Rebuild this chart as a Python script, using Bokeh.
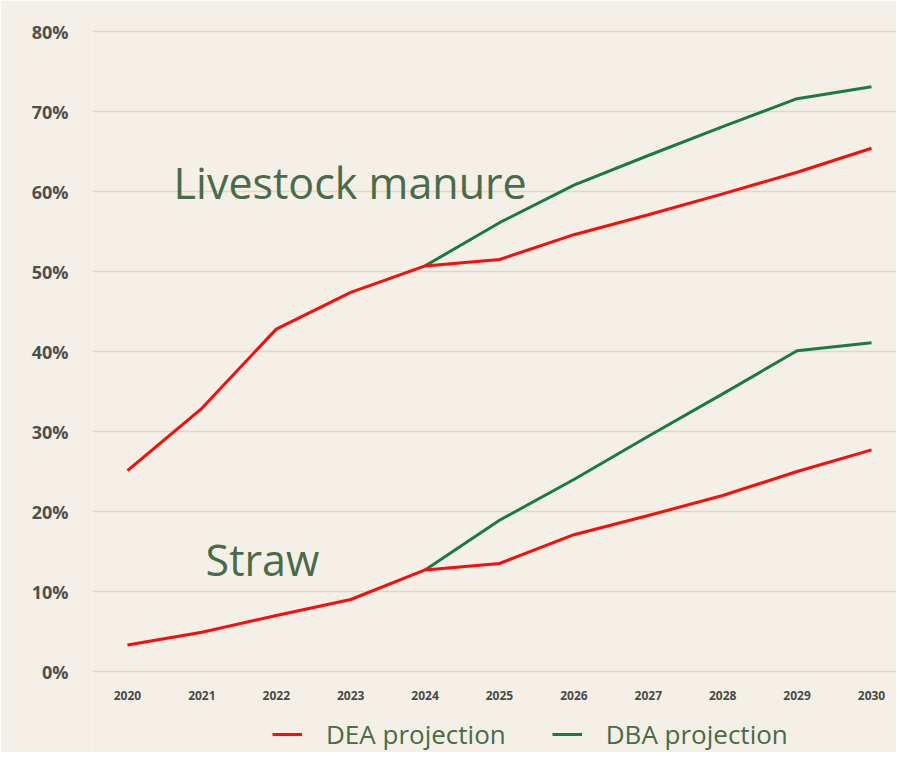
from bokeh.plotting import figure
from bokeh.models import Range1d, FixedTicker, Legend, LegendItem
from bokeh.core.properties import value
from bokeh.embed import file_html
from bokeh.resources import INLINE

years = [2020, 2021, 2022, 2023, 2024, 2025, 2026, 2027, 2028, 2029, 2030]
livestock_dea = [25.1, 32.9, 42.8, 47.4, 50.7, 51.5, 54.6, 57.1, 59.7, 62.4, 65.4]
dba_years = [2024, 2025, 2026, 2027, 2028, 2029, 2030]
livestock_dba = [50.7, 56.1, 60.8, 64.5, 68.1, 71.6, 73.1]
straw_dea = [3.3, 4.9, 7.0, 9.0, 12.7, 13.5, 17.1, 19.5, 22.0, 25.0, 27.7]
straw_dba = [12.7, 18.9, 24.0, 29.4, 34.7, 40.1, 41.1]
y_ticks = [0, 10, 20, 30, 40, 50, 60, 70, 80]
y_tick_labels = {t: f"{t}%" for t in y_ticks}
series_labels = ["DEA projection", "DBA projection"]
annotations = ["Livestock manure", "Straw"]

BG = "#f4f0e7"
RED = "#ff0a0a"
GREEN = "#1b7a43"
TXT_GREEN = "#4a6a48"

p = figure(width=896, height=752, output_backend="svg", toolbar_location=None,
           x_range=Range1d(2019.53, 2030.336), y_range=Range1d(-10.125, 81.375),
           min_border_left=92, min_border_right=0, min_border_top=20, min_border_bottom=0)
p.background_fill_color = BG
p.border_fill_color = BG
p.outline_line_color = None

p.xaxis.ticker = FixedTicker(ticks=years)
p.xaxis.fixed_location = -1.375
p.yaxis.ticker = FixedTicker(ticks=y_ticks)
p.yaxis.major_label_overrides = y_tick_labels
for ax in (p.xaxis, p.yaxis):
    ax.axis_line_color = None
    ax.major_tick_line_color = None
    ax.minor_tick_line_color = None
    ax.major_tick_out = 0
    ax.major_tick_in = 0
    ax.major_label_text_font = "Open Sans"
    ax.major_label_text_font_style = "bold"
p.yaxis.major_label_text_font_size = "18px"
p.yaxis.major_label_text_color = "#4f4f4b"
p.yaxis.major_label_standoff = 24
p.xaxis.major_label_text_font_size = "12px"
p.xaxis.major_label_text_color = "#4a4a45"
p.xaxis.major_label_standoff = 8

p.xgrid.grid_line_color = None
p.ygrid.grid_line_color = "#ddd8cc"
p.ygrid.grid_line_width = 1.5

g1 = p.line(dba_years, livestock_dba, line_color=GREEN, line_width=3)
g2 = p.line(dba_years, straw_dba, line_color=GREEN, line_width=3)
r1 = p.line(years, livestock_dea, line_color=RED, line_width=3)
r2 = p.line(years, straw_dea, line_color=RED, line_width=3)

p.text(x=[2020.62], y=[61.15], text=[annotations[0]], text_font=value("Open Sans"),
       text_font_size="43px", text_color=TXT_GREEN, text_baseline="alphabetic", text_align="left")
p.text(x=[2021.05], y=[14.0], text=[annotations[1]], text_font=value("Open Sans"),
       text_font_size="43px", text_color=TXT_GREEN, text_baseline="alphabetic", text_align="left")

legend = Legend(items=[LegendItem(label=series_labels[0], renderers=[r1]),
                       LegendItem(label=series_labels[1], renderers=[g1])],
                orientation="horizontal", location=(180, 0),
                label_text_font="Open Sans", label_text_font_size="26px",
                label_text_color=TXT_GREEN, glyph_width=30, glyph_height=20,
                label_height=20, label_standoff=24,
                spacing=46, border_line_color=None, background_fill_alpha=0,
                padding=0, margin=0)
p.add_layout(legend)

open("out.html", "w").write(file_html(p, INLINE))
